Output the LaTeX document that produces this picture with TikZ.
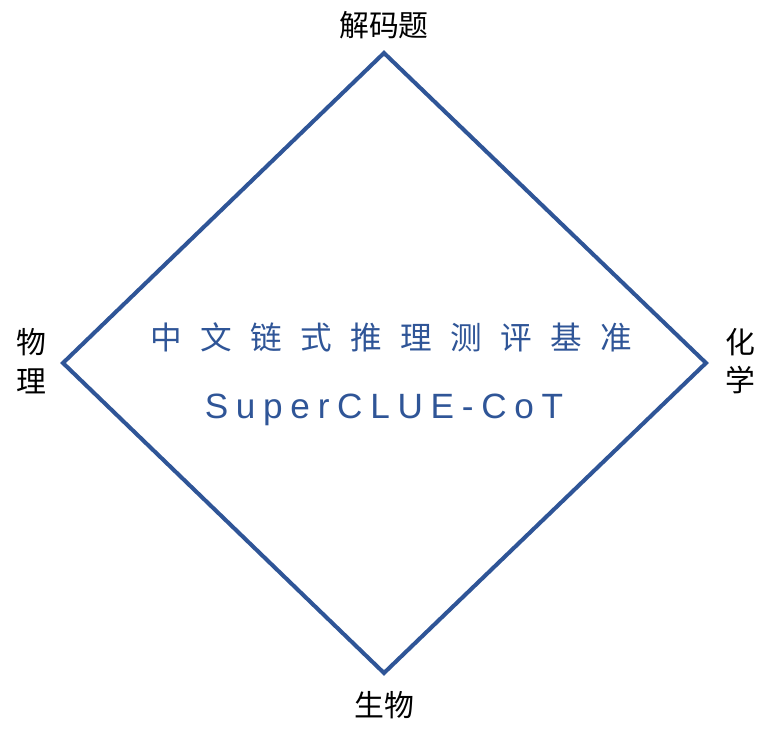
\documentclass[tikz,border=0pt]{standalone}
\usepackage{fontspec}
\setmainfont{Liberation Sans}
\newfontfamily\cjk{Noto Sans CJK SC}
\newfontfamily\cjkwide[LetterSpace=58]{Noto Sans CJK SC}
\newfontfamily\latwide[LetterSpace=22]{Liberation Sans}
\usepackage{xcolor}
\definecolor{CoTBlue}{HTML}{2F5597}

\begin{document}
\begin{tikzpicture}[
    x=0.02cm, y=-0.02cm,
    every node/.style={inner sep=0pt},
    corner/.style={font=\cjk\fontsize{17}{19}\selectfont, text=black, align=center},
    title/.style={text=CoTBlue},
    edge/.style={draw=CoTBlue, line width=2.3pt, line join=miter},
]
\useasboundingbox (0,0) rectangle (768,732);

%% Corners of the diamond
\coordinate (top)    at (384,53);
\coordinate (left)   at (63,363);
\coordinate (right)  at (706,363);
\coordinate (bottom) at (384,673);

%% Diamond
\draw[edge] (top) -- (right) -- (bottom) -- (left) -- cycle;

%% Centre text
\node[title, font=\cjkwide\fontsize{18}{20}\selectfont] (zh) at (391,337) {中文链式推理测评基准};
\node[title, font=\latwide\fontsize{20}{22}\selectfont] (en) at (384,410) {SuperCLUE-CoT};

%% Labels
\node[corner] (decode)  at (384,25)  {解码题};
\node[corner] (physics) at (31,361)  {物\\[3pt]理};
\node[corner] (chem)    at (740,361) {化\\[3pt]学};
\node[corner] (bio)     at (384,705) {生物};

\end{tikzpicture}
\end{document}
